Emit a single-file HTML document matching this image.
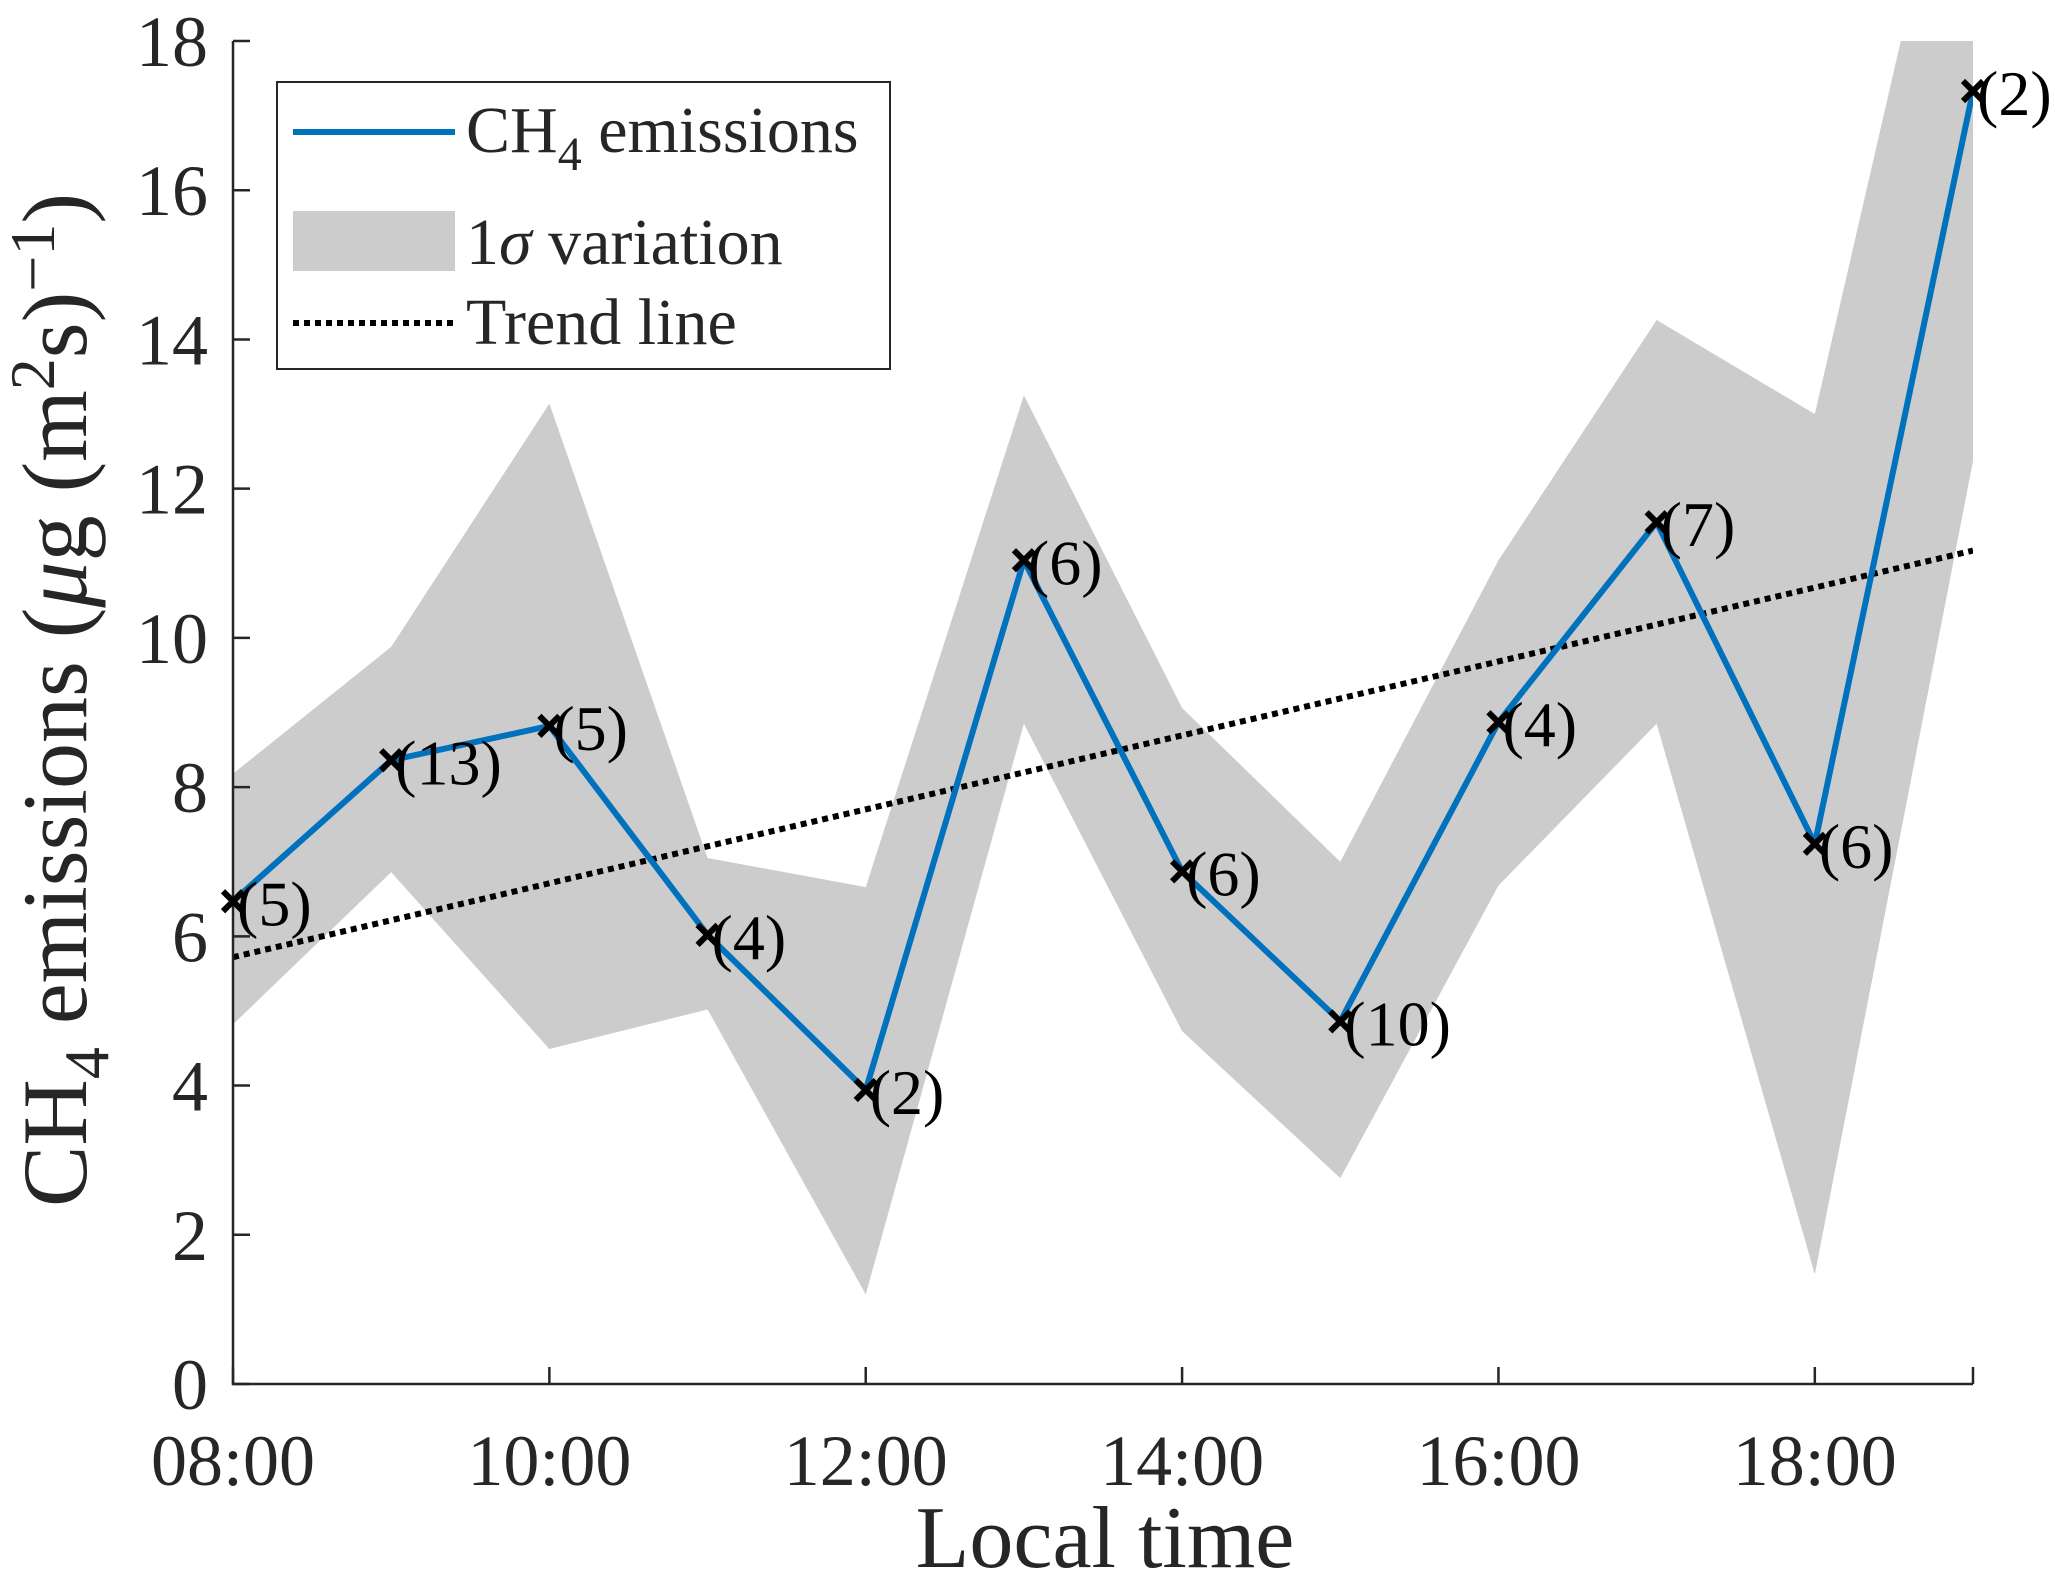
<!DOCTYPE html>
<html><head><meta charset="utf-8"><style>
html,body{margin:0;padding:0;background:#fff;}
svg{display:block;font-family:"Liberation Serif",serif;}
</style></head><body>
<svg id="chart" width="2067" height="1589" viewBox="0 0 2067 1589" xmlns="http://www.w3.org/2000/svg">
<defs><clipPath id="plotclip"><rect x="233" y="41" width="1740" height="1343"/></clipPath></defs>
<g id="band" clip-path="url(#plotclip)"></g>
<g id="marks" clip-path="url(#plotclip)"></g>
<g id="axes"></g>
<g id="legend">
<rect x="277" y="82" width="613" height="287" fill="#fff" stroke="#262626" stroke-width="2"/>
<line x1="293" y1="132" x2="455" y2="132" stroke="#0072BD" stroke-width="6"/>
<text x="466" y="152" font-size="66" fill="#262626">CH<tspan font-size="48" dy="18">4</tspan><tspan dy="-18"> emissions</tspan></text>
<rect x="293" y="211" width="162" height="60" fill="#cccccc"/>
<text x="466" y="264" font-size="66" fill="#262626">1<tspan font-style="italic">σ</tspan> variation</text>
<line x1="293" y1="323" x2="455" y2="323" stroke="#000" stroke-width="6" stroke-dasharray="6 5"/>
<text x="466" y="344" font-size="66" fill="#262626">Trend line</text>
</g>
<text x="1105" y="1567" font-size="88" text-anchor="middle" fill="#262626">Local time</text>
<text transform="translate(86,700) rotate(-90)" font-size="92" text-anchor="middle" fill="#262626">CH<tspan font-size="64" dy="22">4</tspan><tspan dy="-22"> emissions (</tspan><tspan font-style="italic">μ</tspan>g (m<tspan font-size="64" dy="-32">2</tspan><tspan dy="32">s)</tspan><tspan font-size="64" dy="-32">−1</tspan><tspan dy="32">)</tspan></text>
</svg>
<script>
const hours = [8,9,10,11,12,13,14,15,16,17,18,19];
const emissions = [6.47,8.36,8.82,6.02,3.94,11.04,6.87,4.86,8.87,11.55,7.24,17.33];
const upper = [8.18,9.88,13.14,7.05,6.66,13.25,9.06,7.0,11.04,14.26,13.0,22.2];
const lower = [4.82,6.86,4.49,5.02,1.2,8.85,4.73,2.76,6.68,8.85,1.47,12.37];
const counts = [5,13,5,4,2,6,6,10,4,7,6,2];
const trendHours = [8,19];
const trendValues = [5.72,11.17];
const yTicks = [0,2,4,6,8,10,12,14,16,18];
const xTicks = [8,10,12,14,16,18];
const xTickLabels = ["08:00","10:00","12:00","14:00","16:00","18:00"];

const X0=233,X1=1973,Y0=1384,Y1=41;
const xs=h=>X0+(h-8)/(19-8)*(X1-X0);
const ys=v=>Y0-(v-0)/(18-0)*(Y0-Y1);
const NS="http://www.w3.org/2000/svg";
function mk(parent,tag,attrs){const e=document.createElementNS(NS,tag);for(const k in attrs)e.setAttribute(k,attrs[k]);parent.appendChild(e);return e;}

const band=document.getElementById('band');
let pts=hours.map((h,i)=>xs(h)+','+ys(upper[i]));
for(let i=hours.length-1;i>=0;i--)pts.push(xs(hours[i])+','+ys(lower[i]));
const poly=mk(band,'polygon',{points:pts.join(' '),fill:'#cccccc'});



const marks=document.getElementById('marks');
const tr=mk(marks,'line',{x1:xs(trendHours[0]),y1:ys(trendValues[0]),x2:xs(trendHours[1]),y2:ys(trendValues[1]),stroke:'#000','stroke-width':6,'stroke-dasharray':'6 5'});


const pl=mk(marks,'polyline',{points:hours.map((h,i)=>xs(h)+','+ys(emissions[i])).join(' '),fill:'none',stroke:'#0072BD','stroke-width':6,'stroke-linejoin':'round'});



const svg=document.getElementById('chart');
hours.forEach((h,i)=>{
  const cx=xs(h),cy=ys(emissions[i]),d=10;
  const g=mk(svg,'g',{});
  
  
  mk(g,'path',{d:`M${cx-d},${cy-d}L${cx+d},${cy+d}M${cx-d},${cy+d}L${cx+d},${cy-d}`,stroke:'#000','stroke-width':6});
  const t=mk(g,'text',{x:cx+4,y:cy+24,'font-size':64,fill:'#000'});
  t.textContent='('+counts[i]+')';
  
  
});

const axes=document.getElementById('axes');
const ax=mk(axes,'path',{d:`M${X0},${Y1}L${X0},${Y0}L${X1},${Y0}`,fill:'none',stroke:'#262626','stroke-width':2.5});


yTicks.forEach(v=>{
  const y=ys(v);
  mk(axes,'line',{x1:X0,y1:y,x2:X0+17,y2:y,stroke:'#262626','stroke-width':2.5});
  const t=mk(axes,'text',{x:208,y:y+25,'font-size':72,'text-anchor':'end',fill:'#262626'});
  t.textContent=v;
  
  
});
xTicks.forEach((h,i)=>{
  const x=xs(h);
  mk(axes,'line',{x1:x,y1:Y0,x2:x,y2:Y0-17,stroke:'#262626','stroke-width':2.5});
  const t=mk(axes,'text',{x:x,y:1485,'font-size':72,'text-anchor':'middle',fill:'#262626'});
  t.textContent=xTickLabels[i];
  
  
});
mk(axes,'line',{x1:xs(19),y1:Y0,x2:xs(19),y2:Y0-17,stroke:'#262626','stroke-width':2.5});
svg.appendChild(document.getElementById('legend'));
</script>
</body></html>
